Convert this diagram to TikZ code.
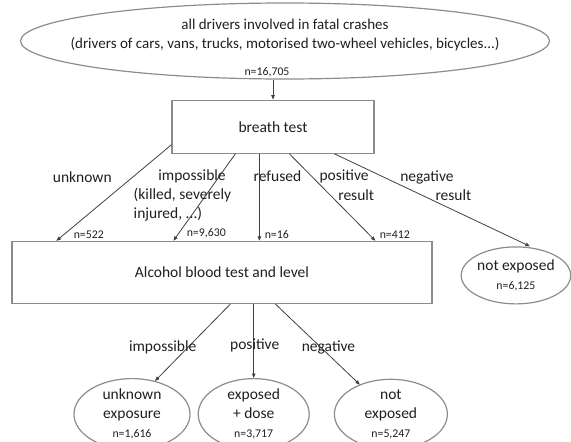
\documentclass[tikz,border=0pt]{standalone}
\usepackage{fontspec}
\setmainfont{Carlito}
\usepackage{tikz}
\usetikzlibrary{arrows.meta, positioning, shapes.geometric}
\definecolor{linegray}{HTML}{8C8C8C}
\definecolor{arrowgray}{HTML}{404040}
\definecolor{textgray}{HTML}{1F1F1F}
\newcommand{\bigsz}{\fontsize{15.5pt}{19pt}\selectfont}
\newcommand{\topsz}{\fontsize{15pt}{19pt}\selectfont}
\newcommand{\smallsz}{\fontsize{11.8pt}{14pt}\selectfont}

\begin{document}
\begin{tikzpicture}[x=1pt, y=1pt, font=\bigsz, text=textgray,
  box/.style={draw=linegray, line width=1.2pt, rectangle, inner sep=0pt},
  oval/.style={draw=linegray, line width=1.2pt, ellipse, inner sep=0pt, align=center},
  arr/.style={draw=arrowgray, line width=0.8pt, -{Triangle[length=4.5pt, width=3.5pt]}},
  lbl/.style={inner sep=0pt, align=left},
  nlabel/.style={font=\smallsz, inner sep=0pt, anchor=south west, yshift=2pt}]

  \useasboundingbox (0,0) rectangle (571,-442);

  \node[oval, minimum width=529pt, minimum height=76pt] (drivers) at (285,-41) {};

  \node[lbl, align=center, font=\topsz] (driverstxt) at ([yshift=6pt]drivers.center) {all drivers involved in fatal crashes\\(drivers of cars, vans, trucks, motorised two-wheel vehicles, bicycles...)};

  \node[box, minimum width=202pt, minimum height=53pt, below=20pt of drivers.south, xshift=-12pt] (breath) {breath test};

  \node[box, minimum width=420pt, minimum height=62pt, below=87pt of breath.south, xshift=-51pt] (alcohol) {Alcohol blood test and level};

  \node[oval, minimum width=108pt, minimum height=57pt, right=28pt of alcohol, yshift=-3pt] (notexp) {not exposed\\{\smallsz n=6,125}};

  \node[oval, minimum width=116pt, minimum height=68pt, below=74pt of alcohol.south, xshift=-90pt] (unk) {unknown\\exposure\\{\smallsz n=1,616}};

  \node[oval, minimum width=111pt, minimum height=68pt, right=7pt of unk] (exposed) {exposed\\+ dose\\{\smallsz n=3,717}};

  \node[oval, minimum width=113pt, minimum height=68pt, right=24pt of exposed] (notexpb) {not\\exposed\\{\smallsz n=5,247}};

  \draw[arr] (breath.north |- drivers.south) -- node[nlabel, pos=0, anchor=south, yshift=0.5pt, xshift=-6pt] (n0) {n=16,705} (breath.north);

  \draw[arr] ([yshift=9pt]breath.south west) -- node[lbl, pos=.333, left=21pt] (lunk) {unknown} node[nlabel, pos=1, xshift=17pt] (n1) {n=522} ([xshift=45pt]alcohol.north west);
  \draw[arr] ([xshift=64pt]breath.south west) -- node[lbl, pos=.264, xshift=-27pt] (limp) {impossible} node[lbl, pos=.58, xshift=-17pt] (limpb) {(killed, severely\\injured, ...)} node[nlabel, pos=1, xshift=13pt] (n2) {n=9,630} ([xshift=162pt]alcohol.north west);
  \draw[arr] ([xshift=88pt]breath.south west) -- node[lbl, pos=.253, xshift=18pt] (lref) {refused} node[nlabel, pos=1, xshift=5pt] (n3) {n=16} ([xshift=248pt]alcohol.north west);
  \draw[arr] ([xshift=118pt]breath.south west) -- node[lbl, pos=.264, right=7pt] (lpos) {positive} node[lbl, pos=.471, right=8pt] (lposr) {result} node[nlabel, pos=1, xshift=4pt] (n4) {n=412} ([xshift=364pt]alcohol.north west);
  \draw[arr] ([xshift=163pt]breath.south west) -- node[lbl, pos=.253, right=16pt] (lneg) {negative} node[lbl, pos=.451, right=12.5pt] (lnegr) {result} ([xshift=14pt]notexp.north);

  \draw[arr] ([xshift=219pt]alcohol.south west) -- node[lbl, pos=.558, xshift=-25.6pt] (limpc) {impossible} ([xshift=23pt, yshift=-3pt]unk.north);
  \draw[arr] (alcohol.south -| exposed.north) -- node[lbl, pos=.558, xshift=1pt] (lposc) {positive} (exposed.north);
  \draw[arr] ([xshift=264pt]alcohol.south west) -- node[lbl, pos=.5375, xshift=7.7pt] (lnegc) {negative} ([xshift=-31pt, yshift=-6pt]notexpb.north);
\end{tikzpicture}
\end{document}
